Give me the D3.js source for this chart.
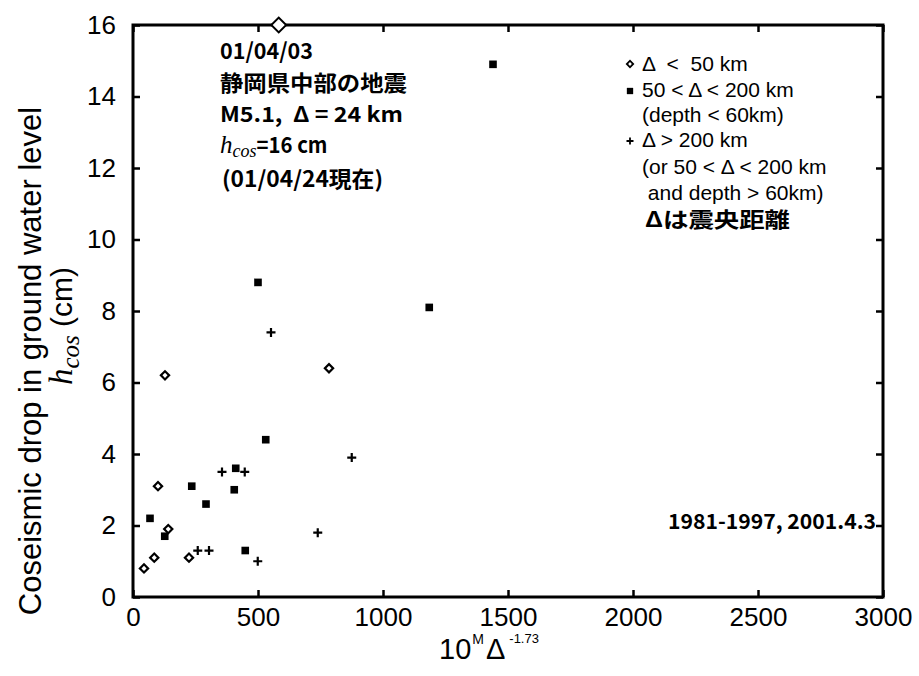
<!DOCTYPE html>
<html><head><meta charset="utf-8">
<script src="https://cdn.jsdelivr.net/npm/d3@7"></script>
<style>body{margin:0;background:#fff}svg{display:block}</style>
</head><body>
<svg id="c" width="919" height="676"></svg>
<script>
// ---- data ----
const xTicks = [0, 500, 1000, 1500, 2000, 2500, 3000];
const yTicks = [0, 2, 4, 6, 8, 10, 12, 14, 16];
const diamondX = [44, 85, 100, 141, 224, 128, 784];
const diamondY = [0.8, 1.1, 3.1, 1.9, 1.1, 6.2, 6.4];
const highlightX = [583];
const highlightY = [16];
const squareX = [68, 127, 235, 292, 405, 411, 449, 531, 500, 1185, 1440];
const squareY = [2.2, 1.7, 3.1, 2.6, 3.0, 3.6, 1.3, 4.4, 8.8, 8.1, 14.9];
const plusX = [259, 304, 356, 447, 499, 739, 875, 552];
const plusY = [1.3, 1.3, 3.5, 3.5, 1.0, 1.8, 3.9, 7.4];
const legendLabels = ["Δ  <  50 km", "50 < Δ < 200 km", "(depth < 60km)", "Δ > 200 km",
  "(or 50 < Δ < 200 km", " and depth > 60km)", "Δは震央距離"];
const noteLines = ["01/04/03", "静岡県中部の地震", "M5.1,  Δ = 24 km", "=16 cm", "(01/04/24現在)"];
const periodLabel = "1981-1997, 2001.4.3";

const svg = d3.select("#c");
const L = 133, R = 883, T = 25, B = 597;
const x = d3.scaleLinear().domain([0, 3000]).range([L, R]);
const y = d3.scaleLinear().domain([0, 16]).range([B, T]);
const sans = "'Liberation Sans', Arial, sans-serif";
const serif = "'Liberation Serif', 'Times New Roman', serif";
const jp = "'Noto Sans CJK JP', sans-serif";

// axes
const gx = svg.append("g").attr("transform", `translate(0,${B})`)
  .call(d3.axisBottom(x).tickValues(xTicks).tickSizeInner(-7).tickSizeOuter(0).tickPadding(11).tickFormat(d3.format("d")));
const gy = svg.append("g").attr("transform", `translate(${L},0)`)
  .call(d3.axisLeft(y).tickValues(yTicks).tickSizeInner(-7).tickSizeOuter(0).tickPadding(17).tickFormat(d3.format("d")));
const gt = svg.append("g").attr("transform", `translate(0,${T})`)
  .call(d3.axisTop(x).tickValues(xTicks).tickSizeInner(-7).tickSizeOuter(0).tickFormat(""));
const gr = svg.append("g").attr("transform", `translate(${R},0)`)
  .call(d3.axisRight(y).tickValues(yTicks).tickSizeInner(-7).tickSizeOuter(0).tickFormat(""));
[gx, gy, gt, gr].forEach(g => {
  g.select(".domain").remove();
  g.selectAll(".tick line").attr("stroke", "#000").attr("stroke-width", 2.5);
  g.selectAll("text").attr("font-family", sans).attr("font-size", 26).attr("fill", "#000");
});
svg.append("rect").attr("x", L).attr("y", T).attr("width", R - L).attr("height", B - T)
  .attr("fill", "none").attr("stroke", "#000").attr("stroke-width", 3);

// markers
const sq = d3.symbol(d3.symbolSquare);
const plusPath = s => `M${-s},0H${s}M0,${-s}V${s}`;
function diamond(g, cx, cy, area, sw) {
  g.append("path").attr("d", sq.size(area)())
    .attr("transform", `translate(${cx},${cy}) rotate(45)`)
    .attr("fill", "#fff").attr("stroke", "#000").attr("stroke-width", sw);
}
const pts = svg.append("g");
squareX.forEach((v, i) => pts.append("path").attr("d", sq.size(58)())
  .attr("transform", `translate(${x(v)},${y(squareY[i])})`).attr("fill", "#000"));
plusX.forEach((v, i) => pts.append("path").attr("d", plusPath(4.5))
  .attr("transform", `translate(${x(v)},${y(plusY[i])})`).attr("stroke", "#000").attr("stroke-width", 2.2));
diamondX.forEach((v, i) => diamond(pts, x(v), y(diamondY[i]), 34, 2.2));
highlightX.forEach((v, i) => diamond(pts, x(v), y(highlightY[i]), 110, 2));

// legend
const lg = svg.append("g");
const lgBase = [71, 97, 122, 147, 174, 200, 227];
legendLabels.forEach((t, i) => {
  const isJ = i === 6;
  const el = lg.append("text").attr("x", isJ ? 645 : 642).attr("y", lgBase[i])
    .attr("font-family", isJ ? jp : sans).attr("font-weight", isJ ? "bold" : "normal")
    .attr("font-size", 21)
    .style("white-space", "pre")
    .text(t);
  if (isJ) el.attr("textLength", 145).attr("lengthAdjust", "spacingAndGlyphs");
});
diamond(lg, 630, 64, 20, 1.8);
lg.append("path").attr("d", sq.size(40)()).attr("transform", "translate(630,91)");
lg.append("path").attr("d", plusPath(3.5)).attr("transform", "translate(630,141)").attr("stroke", "#000").attr("stroke-width", 1.8);

// annotation
const an = svg.append("g").attr("font-family", jp).attr("font-weight", "bold").attr("fill", "#000");
an.append("text").attr("x", 220).attr("y", 59).attr("font-size", 22).attr("textLength", 93).attr("lengthAdjust", "spacingAndGlyphs").text(noteLines[0]);
an.append("text").attr("x", 220).attr("y", 91).attr("font-size", 22).attr("textLength", 187).attr("lengthAdjust", "spacingAndGlyphs").text(noteLines[1]);
an.append("text").attr("x", 220).attr("y", 122).attr("font-size", 21).attr("textLength", 183).attr("lengthAdjust", "spacingAndGlyphs").style("white-space", "pre").text(noteLines[2]);
const h4 = an.append("text").attr("x", 220).attr("y", 153);
h4.append("tspan").attr("font-family", serif).attr("font-style", "italic").attr("font-weight", "normal").attr("font-size", 25).text("h");
h4.append("tspan").attr("font-family", serif).attr("font-style", "italic").attr("font-weight", "normal").attr("font-size", 18).attr("dy", 4).text("cos");
h4.append("tspan").attr("font-size", 22).attr("dy", -4).attr("textLength", 71).attr("lengthAdjust", "spacingAndGlyphs").text(noteLines[3]);
an.append("text").attr("x", 222).attr("y", 187).attr("font-size", 22).attr("textLength", 161).attr("lengthAdjust", "spacingAndGlyphs").text(noteLines[4]);
an.append("text").attr("x", 668).attr("y", 529).attr("font-size", 21).attr("textLength", 208).attr("lengthAdjust", "spacingAndGlyphs").text(periodLabel);

// axis titles
svg.append("text").attr("transform", "translate(41,361) rotate(-90)").attr("text-anchor", "middle")
  .attr("font-family", sans).attr("font-size", 31).text("Coseismic drop in ground water level");
const yt2 = svg.append("text").attr("transform", "translate(72,326) rotate(-90)").attr("text-anchor", "middle").attr("font-family", sans).attr("font-size", 30);
yt2.append("tspan").attr("font-family", serif).attr("font-style", "italic").attr("font-size", 33).text("h");
yt2.append("tspan").attr("font-family", serif).attr("font-style", "italic").attr("font-size", 25).attr("dy", 7).text("cos");
yt2.append("tspan").attr("dy", -7).text(" (cm)");

const xt = svg.append("text").attr("x", 439).attr("y", 659).attr("font-family", sans).attr("font-size", 29);
xt.append("tspan").text("10");
xt.append("tspan").attr("font-size", 14).attr("dy", -15).attr("dx", 1).text("M");
xt.append("tspan").attr("dy", 15).attr("dx", 2).text("Δ");
xt.append("tspan").attr("font-size", 13).attr("dy", -16).attr("dx", 4).text("-1.73");
</script>
</body></html>
